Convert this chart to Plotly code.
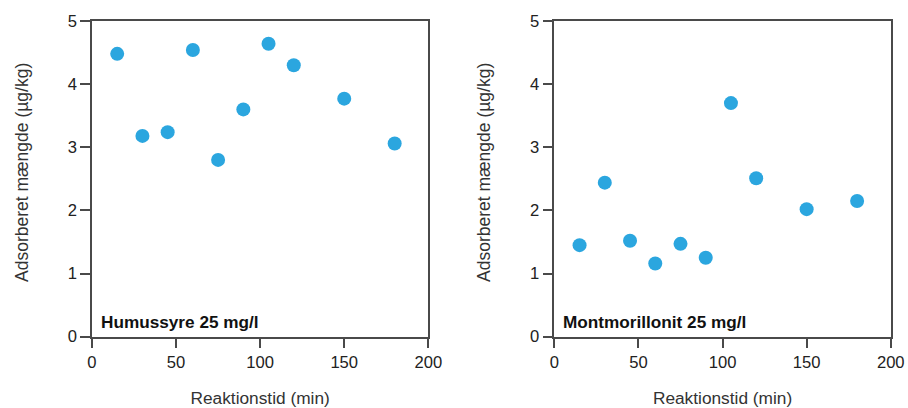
import plotly.graph_objects as go
from plotly.subplots import make_subplots

# Reaction time (min) and adsorbed amount (µg/kg)
reaktionstid = [15, 30, 45, 60, 75, 90, 105, 120, 150, 180]
humussyre = [4.48, 3.18, 3.24, 4.54, 2.80, 3.60, 4.64, 4.30, 3.77, 3.06]
montmorillonit = [1.45, 2.44, 1.52, 1.16, 1.47, 1.25, 3.70, 2.51, 2.02, 2.15]

panel_labels = ["Humussyre 25 mg/l", "Montmorillonit 25 mg/l"]
x_ticks = [0, 50, 100, 150, 200]
y_ticks = [0, 1, 2, 3, 4, 5]

DOT = "#2ba6df"
LINE = "#4a4a4a"
FONT = "Liberation Sans, Arial, sans-serif"

fig = make_subplots(rows=1, cols=2)

for i, series in enumerate([humussyre, montmorillonit], start=1):
    fig.add_trace(
        go.Scatter(
            x=reaktionstid, y=series, mode="markers",
            marker=dict(size=14, color=DOT, line=dict(width=0)),
            cliponaxis=False, showlegend=False,
        ),
        row=1, col=i,
    )

x_domains = [[0.1013, 0.4717], [0.6105, 0.9810]]
y_domain = [0.1748, 0.9485]
y_title_x = [22 / 908, 484 / 908]

axis_common = dict(
    showgrid=False, zeroline=False, showline=True, linecolor=LINE, linewidth=1.5,
    mirror=True, ticks="outside", ticklen=10, tickwidth=1.5, tickcolor=LINE,
    tickfont=dict(family=FONT, size=16.6, color="#222222"), automargin=False,
)

for i in (1, 2):
    xa = "xaxis" if i == 1 else "xaxis2"
    ya = "yaxis" if i == 1 else "yaxis2"
    fig.layout[xa].update(
        domain=x_domains[i - 1], range=[0, 200], tickvals=x_ticks,
        title=dict(text="Reaktionstid (min)", standoff=22,
                   font=dict(family=FONT, size=17.3, color="#333333")),
        **axis_common,
    )
    fig.layout[ya].update(
        domain=y_domain, range=[0, 5], tickvals=y_ticks,
        **axis_common,
    )
    # vertical axis title
    fig.add_annotation(
        text="Adsorberet mængde (µg/kg)", textangle=-90,
        xref="paper", yref="paper", x=y_title_x[i - 1], y=(408 - 173) / 408,
        xanchor="center", yanchor="middle", showarrow=False,
        font=dict(family=FONT, size=17.5, color="#333333"),
    )
    # panel label in the lower-left corner
    fig.add_annotation(
        text="<b>" + panel_labels[i - 1] + "</b>",
        xref=("x" if i == 1 else "x2") + " domain", yref="y domain",
        x=0.02, y=0.01, xanchor="left", yanchor="bottom", showarrow=False,
        font=dict(family=FONT, size=17.2, color="#111111"),
    )

fig.update_layout(
    width=908, height=408,
    margin=dict(l=0, r=0, t=0, b=0),
    paper_bgcolor="white", plot_bgcolor="white",
)

fig.write_html("out.html")
